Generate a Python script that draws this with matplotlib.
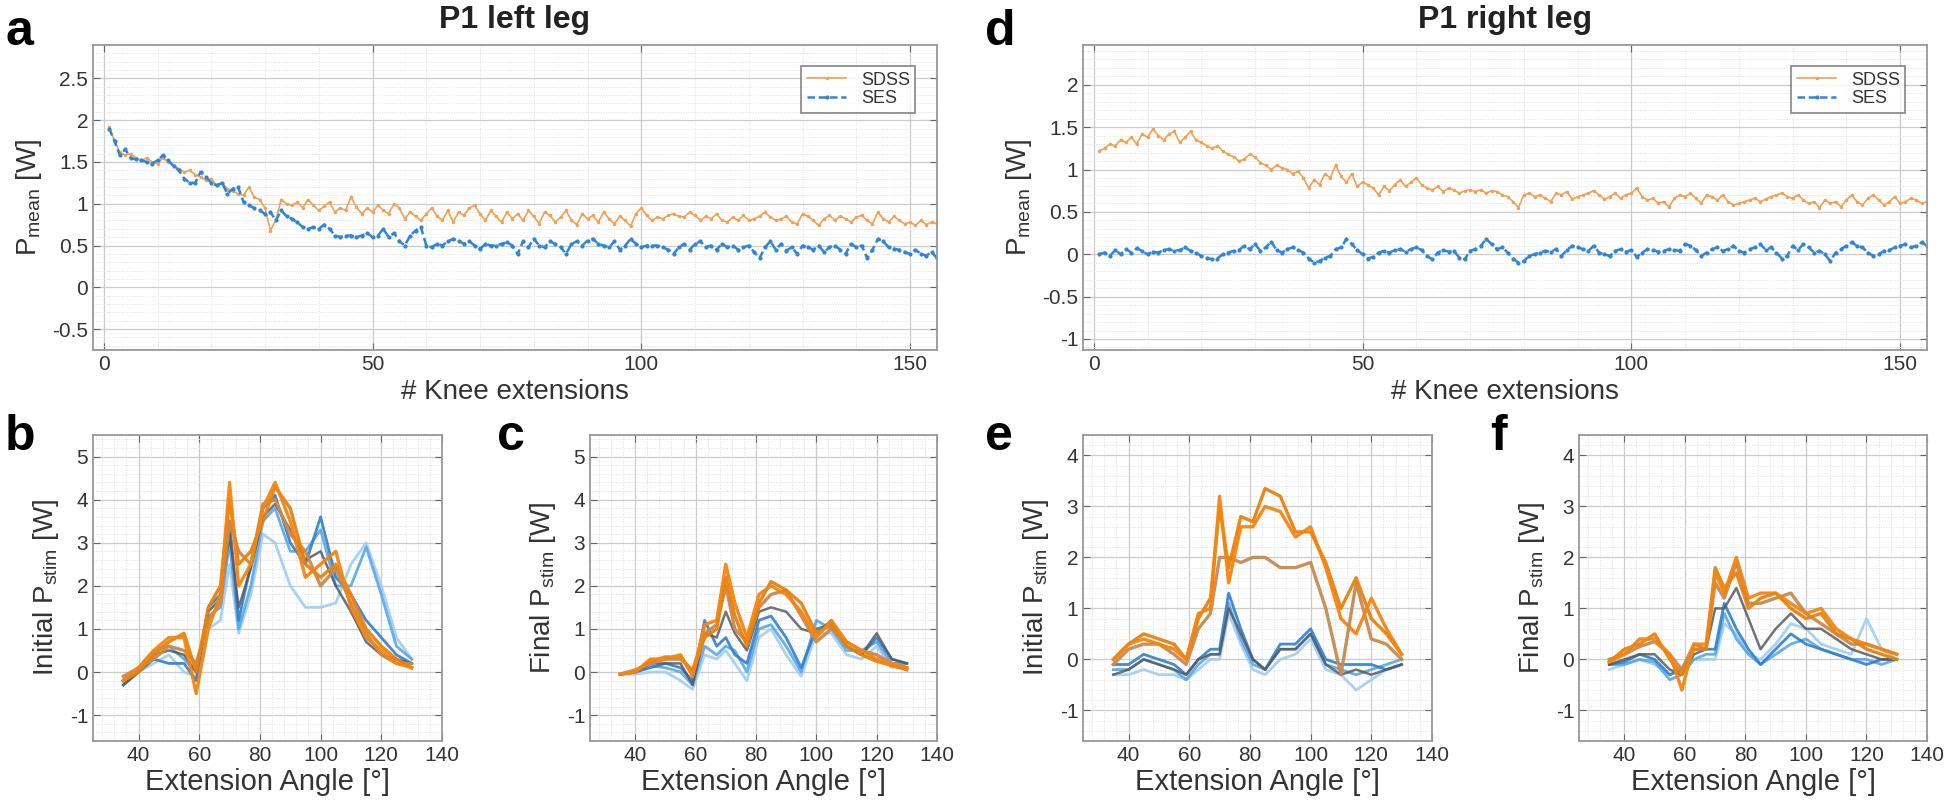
import matplotlib.pyplot as plt
from matplotlib.ticker import AutoMinorLocator, FuncFormatter, MultipleLocator
import numpy as np

plt.rcParams['font.family'] = ['Liberation Sans', 'DejaVu Sans']
plt.rcParams['mathtext.default'] = 'regular'

# ---------------------------------------------------------------------------
# Data: mean power per knee extension (top panels)
# ---------------------------------------------------------------------------
sdss_left = [
    1.92, 1.75, 1.62, 1.58, 1.60, 1.55, 1.52, 1.55, 1.50, 1.48,
    1.55, 1.50, 1.45, 1.42, 1.38, 1.40, 1.35, 1.32, 1.28, 1.30,
    1.22, 1.25, 1.18, 1.15, 1.12, 1.10, 1.20, 1.08, 1.05, 0.95,
    0.68, 0.80, 1.05, 1.00, 0.98, 1.02, 0.95, 1.05, 0.98, 0.92,
    0.97, 1.02, 0.90, 0.95, 0.92, 1.08, 0.96, 0.88, 0.95, 0.90,
    0.98, 0.92, 0.88, 1.00, 0.95, 0.82, 0.90, 0.85, 0.80, 0.88,
    0.95, 0.85, 0.80, 0.92, 0.78, 0.90, 0.86, 0.95, 0.98, 0.88,
    0.80, 0.92, 0.85, 0.78, 0.90, 0.82, 0.88, 0.80, 0.92, 0.85,
    0.76, 0.90, 0.86, 0.78, 0.84, 0.92, 0.80, 0.75, 0.88, 0.82,
    0.86, 0.78, 0.90, 0.82, 0.76, 0.85, 0.80, 0.73, 0.88, 0.95,
    0.86, 0.80, 0.84, 0.82, 0.86, 0.88, 0.85, 0.84, 0.90, 0.86,
    0.80, 0.85, 0.82, 0.88, 0.80, 0.78, 0.84, 0.80, 0.86, 0.80,
    0.82, 0.85, 0.90, 0.84, 0.80, 0.82, 0.85, 0.78, 0.76, 0.88,
    0.85, 0.80, 0.74, 0.82, 0.86, 0.80, 0.85, 0.82, 0.78, 0.84,
    0.86, 0.80, 0.76, 0.90, 0.82, 0.78, 0.85, 0.80, 0.76, 0.78,
    0.74, 0.80, 0.75, 0.78, 0.76]
ses_left = [
    1.90, 1.75, 1.58, 1.65, 1.55, 1.53, 1.52, 1.50, 1.48, 1.52,
    1.58, 1.52, 1.45, 1.40, 1.30, 1.25, 1.25, 1.38, 1.32, 1.25,
    1.22, 1.25, 1.12, 1.18, 1.20, 1.02, 0.98, 0.95, 0.92, 0.88,
    0.90, 0.80, 0.92, 0.85, 0.82, 0.78, 0.72, 0.70, 0.72, 0.70,
    0.75, 0.70, 0.62, 0.60, 0.62, 0.62, 0.60, 0.62, 0.65, 0.60,
    0.62, 0.70, 0.60, 0.65, 0.55, 0.50, 0.62, 0.68, 0.72, 0.50,
    0.48, 0.52, 0.50, 0.55, 0.58, 0.56, 0.52, 0.55, 0.50, 0.46,
    0.52, 0.50, 0.50, 0.52, 0.54, 0.50, 0.40, 0.55, 0.48, 0.58,
    0.50, 0.48, 0.55, 0.52, 0.48, 0.40, 0.52, 0.55, 0.50, 0.56,
    0.58, 0.52, 0.50, 0.48, 0.55, 0.45, 0.50, 0.58, 0.52, 0.48,
    0.50, 0.50, 0.50, 0.48, 0.45, 0.40, 0.48, 0.52, 0.45, 0.52,
    0.55, 0.48, 0.50, 0.45, 0.52, 0.48, 0.50, 0.45, 0.48, 0.50,
    0.42, 0.35, 0.48, 0.55, 0.45, 0.52, 0.44, 0.48, 0.40, 0.50,
    0.48, 0.45, 0.50, 0.42, 0.48, 0.50, 0.45, 0.40, 0.52, 0.48,
    0.50, 0.35, 0.45, 0.58, 0.55, 0.48, 0.46, 0.45, 0.42, 0.40,
    0.45, 0.40, 0.38, 0.42, 0.35]
sdss_right = [
    1.22, 1.25, 1.30, 1.28, 1.35, 1.32, 1.38, 1.30, 1.42, 1.38,
    1.48, 1.40, 1.35, 1.42, 1.45, 1.32, 1.38, 1.45, 1.35, 1.32,
    1.28, 1.25, 1.28, 1.22, 1.18, 1.15, 1.10, 1.12, 1.18, 1.15,
    1.08, 1.05, 1.00, 1.05, 1.02, 1.00, 0.95, 0.98, 0.90, 0.78,
    0.88, 0.82, 0.95, 0.90, 1.05, 0.92, 0.85, 0.95, 0.80, 0.85,
    0.82, 0.78, 0.70, 0.80, 0.75, 0.82, 0.88, 0.80, 0.85, 0.90,
    0.82, 0.78, 0.76, 0.80, 0.74, 0.78, 0.76, 0.72, 0.75, 0.76,
    0.74, 0.76, 0.72, 0.75, 0.74, 0.70, 0.68, 0.62, 0.55, 0.70,
    0.72, 0.68, 0.70, 0.66, 0.62, 0.72, 0.70, 0.74, 0.65, 0.68,
    0.70, 0.72, 0.75, 0.70, 0.65, 0.68, 0.72, 0.66, 0.70, 0.72,
    0.78, 0.68, 0.64, 0.66, 0.60, 0.62, 0.56, 0.66, 0.70, 0.68,
    0.72, 0.66, 0.60, 0.70, 0.68, 0.64, 0.70, 0.62, 0.58, 0.60,
    0.62, 0.64, 0.66, 0.62, 0.65, 0.68, 0.70, 0.72, 0.68, 0.66,
    0.70, 0.64, 0.60, 0.62, 0.55, 0.64, 0.60, 0.62, 0.56, 0.64,
    0.70, 0.62, 0.58, 0.66, 0.70, 0.64, 0.58, 0.62, 0.68, 0.60,
    0.62, 0.66, 0.64, 0.60, 0.62]
ses_right = [
    0.00, 0.02, -0.02, 0.05, 0.00, 0.06, 0.02, 0.07, 0.04, 0.00,
    0.03, 0.02, 0.05, 0.06, 0.04, 0.05, 0.08, 0.04, 0.02, -0.02,
    -0.04, -0.06, -0.05, 0.00, 0.02, 0.04, 0.05, 0.10, 0.06, 0.12,
    0.04, 0.08, 0.15, 0.05, 0.02, 0.06, 0.08, 0.05, 0.02, -0.05,
    -0.10, -0.08, -0.04, -0.02, 0.06, 0.08, 0.18, 0.12, 0.05, 0.00,
    -0.05, -0.03, 0.02, 0.04, 0.02, 0.05, 0.06, 0.03, 0.06, 0.08,
    0.05, -0.02, -0.06, 0.02, 0.05, 0.03, 0.04, -0.04, -0.06, 0.04,
    0.06, 0.10, 0.18, 0.12, 0.06, 0.08, 0.02, -0.05, -0.10, -0.08,
    -0.02, 0.00, 0.02, 0.04, 0.03, 0.06, -0.02, 0.05, 0.10, 0.08,
    0.06, 0.04, 0.10, 0.02, 0.00, -0.02, 0.04, 0.06, 0.03, 0.05,
    -0.03, 0.02, 0.06, 0.05, 0.03, 0.04, 0.06, 0.05, 0.04, 0.12,
    0.10, 0.05, -0.02, 0.02, 0.06, 0.08, 0.04, 0.06, 0.10, 0.04,
    0.02, 0.06, 0.08, 0.12, 0.05, 0.08, 0.02, -0.05, -0.02, 0.10,
    0.05, 0.12, 0.08, 0.02, 0.04, 0.00, -0.08, 0.02, 0.06, 0.10,
    0.14, 0.10, 0.08, 0.02, -0.02, 0.00, 0.04, 0.05, 0.08, 0.10,
    0.12, 0.08, 0.10, 0.14, 0.10]

# ---------------------------------------------------------------------------
# Data: stimulation power vs extension angle (bottom panels)
# ---------------------------------------------------------------------------
angle = [35, 40, 45, 50, 55, 59, 63, 67, 70, 73, 77, 81, 85, 90, 95, 100,
         105, 110, 115, 120, 125, 130]

init_left_sdss = [
    [-0.2, 0.1, 0.5, 0.8, 0.8, -0.5, 1.0, 1.8, 4.4, 2.0, 2.5, 3.8, 4.4, 3.5, 2.2, 2.5, 2.8, 1.5, 0.8, 0.5, 0.2, 0.1],
    [-0.2, 0.0, 0.4, 0.7, 0.9, 0.0, 1.5, 2.0, 4.0, 2.5, 2.8, 3.5, 4.3, 3.8, 2.5, 2.2, 2.5, 1.8, 1.0, 0.6, 0.3, 0.1],
    [-0.1, 0.1, 0.3, 0.6, 0.5, 0.2, 1.2, 1.6, 3.5, 2.8, 2.5, 3.9, 4.0, 3.2, 2.8, 2.0, 2.4, 1.6, 0.9, 0.4, 0.2, 0.2]]
init_left_ses = [
    [-0.3, 0.0, 0.3, 0.2, 0.2, -0.2, 1.5, 1.8, 3.5, 1.2, 2.5, 3.8, 4.1, 3.0, 2.5, 3.6, 2.2, 1.8, 1.2, 0.8, 0.4, 0.2],
    [-0.2, 0.1, 0.5, 0.6, 0.3, 0.0, 1.3, 1.5, 3.0, 1.0, 2.0, 3.5, 3.8, 2.8, 2.8, 3.3, 2.0, 2.0, 2.9, 1.8, 0.6, 0.3],
    [-0.2, 0.0, 0.2, 0.4, 0.0, -0.1, 1.0, 1.2, 2.5, 0.9, 1.8, 3.2, 3.0, 2.0, 1.5, 1.5, 1.6, 2.5, 3.0, 2.0, 0.8, 0.3]]
init_left_gray = [-0.3, 0.0, 0.4, 0.5, 0.4, 0.0, 1.4, 1.7, 3.2, 1.5, 2.4, 3.6, 3.9, 3.3, 2.6, 2.8, 2.0, 1.4, 0.7, 0.4, 0.3, 0.2]

final_left_sdss = [
    [-0.05, 0.0, 0.3, 0.3, 0.4, -0.1, 1.1, 1.2, 2.5, 1.6, 0.8, 1.8, 2.0, 1.8, 1.4, 0.8, 1.2, 0.7, 0.5, 0.3, 0.2, 0.1],
    [-0.05, 0.0, 0.25, 0.35, 0.35, 0.0, 0.8, 1.0, 2.2, 1.3, 0.6, 1.6, 2.1, 1.9, 1.6, 0.9, 1.1, 0.6, 0.4, 0.25, 0.15, 0.05],
    [-0.05, 0.05, 0.2, 0.3, 0.3, 0.05, 0.9, 1.1, 2.0, 1.0, 0.7, 1.5, 1.8, 1.9, 1.3, 0.7, 1.0, 0.7, 0.5, 0.4, 0.2, 0.1]]
final_left_ses = [
    [-0.05, 0.0, 0.1, 0.2, 0.1, -0.2, 1.2, 0.6, 0.8, 0.4, 0.2, 1.2, 1.3, 0.8, 0.1, 1.0, 1.1, 0.6, 0.4, 0.8, 0.3, 0.2],
    [-0.05, 0.0, 0.15, 0.1, 0.0, -0.3, 0.6, 0.4, 0.6, 0.5, 0.0, 1.0, 1.1, 0.6, 0.0, 1.2, 1.0, 0.5, 0.5, 0.7, 0.2, 0.2],
    [-0.05, -0.05, 0.0, 0.0, -0.2, -0.4, 0.4, 0.3, 0.5, 0.2, -0.2, 0.8, 1.0, 0.4, -0.1, 0.9, 0.9, 0.4, 0.3, 0.6, 0.1, 0.2]]
final_left_gray = [-0.05, 0.0, 0.2, 0.2, 0.2, -0.3, 0.9, 0.8, 1.4, 0.9, 0.5, 1.4, 1.5, 1.4, 1.0, 0.9, 1.2, 0.6, 0.4, 0.9, 0.3, 0.2]

init_right_sdss = [
    [0.0, 0.3, 0.4, 0.3, 0.2, 0.0, 0.9, 1.0, 3.2, 1.5, 2.6, 2.6, 3.0, 2.9, 2.4, 2.6, 1.8, 0.8, 0.5, 1.2, 0.6, 0.1],
    [0.0, 0.3, 0.5, 0.4, 0.3, 0.0, 0.8, 1.2, 3.0, 1.8, 2.8, 2.7, 3.35, 3.2, 2.5, 2.5, 1.9, 1.0, 1.6, 0.8, 0.5, 0.1],
    [-0.1, 0.2, 0.3, 0.3, 0.1, -0.1, 0.6, 0.9, 2.0, 2.0, 1.9, 2.0, 2.0, 1.8, 1.8, 1.9, 1.0, -0.3, 1.5, 0.4, 0.3, 0.0]]
init_right_ses = [
    [-0.1, -0.1, 0.1, 0.0, -0.1, -0.3, 0.0, 0.2, 0.2, 1.3, 0.6, 0.0, -0.2, 0.3, 0.3, 0.6, 0.0, -0.1, -0.1, -0.1, -0.2, -0.1],
    [-0.2, -0.2, 0.0, -0.1, -0.2, -0.4, -0.1, 0.1, 0.1, 1.1, 0.4, -0.1, -0.2, 0.2, 0.2, 0.5, -0.1, -0.2, -0.3, -0.2, -0.1, 0.0],
    [-0.3, -0.3, -0.2, -0.3, -0.3, -0.4, -0.2, 0.0, 0.0, 0.9, 0.3, -0.2, -0.3, 0.0, 0.1, 0.4, -0.2, -0.3, -0.6, -0.4, -0.2, -0.1]]
init_right_gray = [-0.3, -0.2, 0.0, -0.1, -0.2, -0.3, 0.0, 0.1, 0.1, 1.0, 0.5, 0.0, -0.2, 0.2, 0.2, 0.5, -0.1, -0.3, -0.2, -0.3, -0.2, -0.1]

final_right_sdss = [
    [-0.05, 0.1, 0.4, 0.4, 0.1, -0.6, 0.3, 0.3, 1.7, 1.3, 2.0, 1.2, 1.3, 1.3, 1.1, 0.9, 1.0, 0.6, 0.4, 0.3, 0.2, 0.1],
    [-0.05, 0.2, 0.3, 0.5, 0.0, -0.3, 0.2, 0.2, 1.8, 1.4, 1.7, 1.0, 1.2, 1.3, 1.0, 0.8, 0.9, 0.5, 0.4, 0.2, 0.1, 0.0],
    [0.0, 0.1, 0.25, 0.35, 0.1, -0.2, 0.3, 0.2, 1.5, 1.2, 1.9, 1.1, 1.1, 1.2, 1.3, 0.9, 0.7, 0.5, 0.3, 0.3, 0.2, 0.1]]
final_right_ses = [
    [-0.1, -0.05, 0.1, 0.0, -0.3, -0.2, 0.2, 0.2, 0.2, 1.1, 0.6, 0.2, -0.1, 0.2, 0.5, 0.3, 0.2, 0.1, 0.0, -0.1, 0.0, 0.0],
    [-0.1, -0.1, 0.0, -0.05, -0.4, -0.3, 0.0, 0.1, 0.1, 0.9, 0.4, 0.1, -0.1, 0.1, 0.3, 0.4, 0.2, 0.1, 0.0, 0.0, -0.1, 0.0],
    [-0.2, -0.1, 0.0, -0.1, -0.3, -0.2, 0.0, 0.0, 0.0, 0.7, 0.5, 0.1, 0.0, 0.3, 0.7, 0.6, 0.3, 0.2, 0.1, 0.8, 0.2, 0.0]]
final_right_gray = [-0.1, 0.0, 0.1, 0.1, -0.2, -0.3, 0.1, 0.2, 1.0, 1.0, 1.4, 0.8, 0.2, 0.6, 0.9, 0.6, 0.6, 0.4, 0.2, 0.1, 0.0, 0.0]

# colours
SDSS_C = '#f3a052'
SES_C = '#2f86d6'
ORANGES = ['#f5850f', '#e8820f', '#c98a4e']
BLUES = ['#2f7fcf', '#59a6e6', '#9fcdf2']
GRAY = '#555a60'

W, H = 1944, 808
fig = plt.figure(figsize=(W / 100, H / 100), dpi=100)


def px_axes(x0, y0, x1, y1):
    return fig.add_axes([x0 / W, (H - y1) / H, (x1 - x0) / W, (y1 - y0) / H])


fmt = FuncFormatter(lambda v, p: '%g' % v)


def style(ax, tick_fs=15):
    ax.minorticks_on()
    ax.xaxis.set_minor_locator(AutoMinorLocator(5))
    ax.yaxis.set_minor_locator(AutoMinorLocator(5))
    ax.grid(True, which='major', color='#cccccc', lw=0.9)
    ax.grid(True, which='minor', color='#dedede', lw=0.7, ls=':')
    ax.set_axisbelow(True)
    ax.tick_params(which='both', direction='in', top=True, right=True,
                   colors='#666666', labelcolor='#333333', labelsize=tick_fs)
    ax.tick_params(which='major', length=5)
    ax.tick_params(which='minor', length=0)
    ax.xaxis.set_major_formatter(fmt)
    ax.yaxis.set_major_formatter(fmt)
    for s in ax.spines.values():
        s.set_color('#999999')
        s.set_linewidth(1.3)


# ---------------------------------------------------------------------------
# Top panels (a, d)
# ---------------------------------------------------------------------------
top_specs = [
    ((93, 45, 937, 350), sdss_left, ses_left, (-0.75, 2.9), 'a', 5, 'P1 left leg', 515),
    ((1083, 45, 1927, 350), sdss_right, ses_right, (-1.13, 2.47), 'd', 985, 'P1 right leg', 1505),
]
for box, sd, se, ylim, letter, lx, title, tx in top_specs:
    ax = px_axes(*box)
    knee = np.arange(1, len(sd) + 1)
    ax.plot(knee, sd, '-', color=SDSS_C, lw=1.2, marker='.', ms=3, label='SDSS')
    ax.plot(np.arange(1, len(se) + 1), se, '--', color=SES_C, lw=1.8, marker='.',
            ms=4, label='SES', dashes=(3, 1.5))
    ax.set_xlim(-2, 155)
    ax.set_ylim(*ylim)
    ax.xaxis.set_major_locator(MultipleLocator(50))
    ax.yaxis.set_major_locator(MultipleLocator(0.5))
    style(ax)
    ax.set_xlabel('# Knee extensions', fontsize=20, color='#333333', labelpad=4)
    ax.set_ylabel('P$_{mean}$ [W]', fontsize=20, color='#333333', labelpad=6)
    leg = ax.legend(loc='upper right', fontsize=13, frameon=True, fancybox=False,
                    handlelength=2.2, borderpad=0.3, labelspacing=0.1,
                    bbox_to_anchor=(0.985, 0.96))
    leg.get_frame().set_edgecolor('#666666')
    leg.get_frame().set_linewidth(1.2)
    for t in leg.get_texts():
        t.set_color('#333333')
    fig.text(lx / W, 1 - 45 / H, letter, fontsize=36, fontweight='bold',
             ha='left', va='baseline')
    fig.text(tx / W, 1 - 20 / H, title, fontsize=23, fontweight='bold',
             ha='center', va='center', color='#222222')

# ---------------------------------------------------------------------------
# Bottom panels (b, c, e, f)
# ---------------------------------------------------------------------------
bottom_specs = [
    ((93, 435, 442, 741), init_left_sdss, init_left_ses, init_left_gray,
     (-1.6, 5.5), 'Initial', 'b', 5),
    ((590, 435, 937, 741), final_left_sdss, final_left_ses, final_left_gray,
     (-1.6, 5.5), 'Final', 'c', 497),
    ((1083, 435, 1432, 741), init_right_sdss, init_right_ses, init_right_gray,
     (-1.6, 4.4), 'Initial', 'e', 985),
    ((1579, 435, 1927, 741), final_right_sdss, final_right_ses, final_right_gray,
     (-1.6, 4.4), 'Final', 'f', 1490),
]
for box, sd_list, se_list, gray, ylim, kind, letter, lx in bottom_specs:
    ax = px_axes(*box)
    for c, curve in zip(BLUES[::-1], se_list[::-1]):
        ax.plot(angle, curve, color=c, lw=2.0, alpha=0.9)
    ax.plot(angle, gray, color=GRAY, lw=1.8, alpha=0.85)
    for c, curve in zip(ORANGES[::-1], sd_list[::-1]):
        ax.plot(angle, curve, color=c, lw=2.4, alpha=0.95)
    ax.set_xlim(25, 140)
    ax.set_ylim(*ylim)
    ax.set_xticks([40, 60, 80, 100, 120, 140])
    ax.yaxis.set_major_locator(MultipleLocator(1))
    style(ax)
    ax.set_xlabel('Extension Angle [°]', fontsize=21, color='#333333', labelpad=2)
    ax.set_ylabel(kind + ' P$_{stim}$ [W]', fontsize=20, color='#333333', labelpad=6)
    fig.text(lx / W, 1 - 450 / H, letter, fontsize=36, fontweight='bold',
             ha='left', va='baseline')

plt.savefig('out.png', dpi=100, facecolor='white')
